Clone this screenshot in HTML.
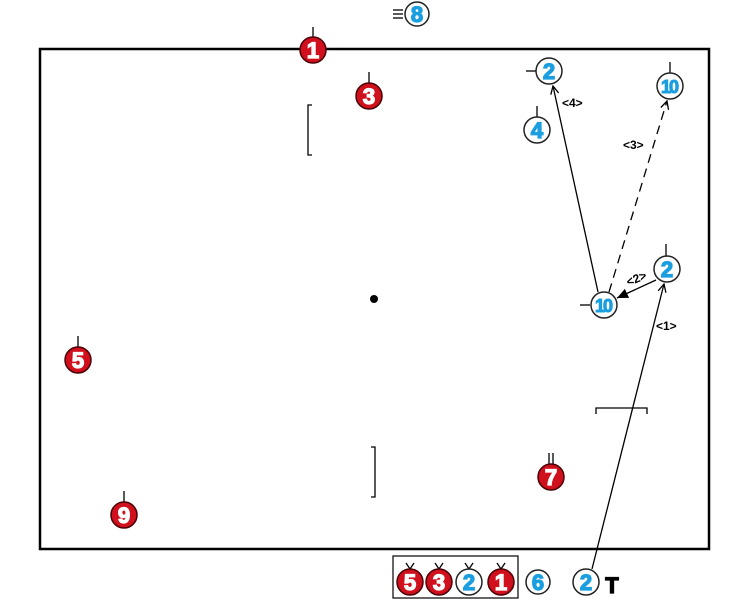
<!DOCTYPE html>
<html><head><meta charset="utf-8"><style>
html,body{margin:0;padding:0;background:#fff;width:748px;height:600px;overflow:hidden}
svg{display:block}
.r{fill:#d0101c;stroke:#4a0006;stroke-width:1.5}
.b{fill:#fff;stroke:#222;stroke-width:1.5}
.rt{fill:#fff;font:bold 22px "Liberation Sans",sans-serif;text-anchor:middle;stroke:#fff;stroke-width:1.3}
.bt{fill:#1a9ee0;font:bold 22px "Liberation Sans",sans-serif;text-anchor:middle;stroke:#1a9ee0;stroke-width:1.3}
.bt2{fill:#1a9ee0;font:bold 18px "Liberation Sans",sans-serif;text-anchor:middle;stroke:#1a9ee0;stroke-width:1;letter-spacing:-2px}
.l{font:bold 12px "Liberation Sans",sans-serif;fill:#000}
.k{stroke:#000;stroke-width:1.3;fill:none}
</style></head><body>
<svg width="748" height="600" viewBox="0 0 748 600" xmlns="http://www.w3.org/2000/svg">
<defs>
<marker id="o" markerWidth="10" markerHeight="10" refX="9" refY="5" orient="auto" markerUnits="userSpaceOnUse"><path d="M1,1 L9,5 L1,9" fill="none" stroke="#000" stroke-width="1.3"/></marker>
<marker id="f" markerWidth="12" markerHeight="12" refX="11" refY="6" orient="auto" markerUnits="userSpaceOnUse"><path d="M0,1 L11,6 L0,11 Z" fill="#000"/></marker>
</defs>
<rect x="40" y="49" width="669" height="500" fill="none" stroke="#000" stroke-width="2.5"/>
<path class="k" d="M312,105 H308 V155 H312"/>
<path class="k" d="M371,447 H375 V497 H371"/>
<path class="k" d="M596,414 V408 H647 V414"/>
<circle cx="374" cy="299" r="4" fill="#000"/>
<line class="k" x1="592" y1="569" x2="664" y2="284" marker-end="url(#o)"/>
<line class="k" x1="598" y1="292" x2="553" y2="86" marker-end="url(#o)"/>
<line class="k" x1="609" y1="292" x2="667" y2="101" stroke-dasharray="9,6" marker-end="url(#o)"/>
<line class="k" x1="656" y1="280" x2="617" y2="298" marker-end="url(#f)"/>
<text class="l" x="562" y="107">&lt;4&gt;</text>
<text class="l" x="623" y="149">&lt;3&gt;</text>
<text class="l" x="626" y="282" transform="rotate(-22 638 278)">&lt;2&gt;</text>
<text class="l" x="656" y="330">&lt;1&gt;</text>
<g class="k" stroke-width="1.2">
<line x1="313" y1="27" x2="313" y2="37"/>
<line x1="369" y1="72" x2="369" y2="83"/>
<line x1="78" y1="336" x2="78" y2="347"/>
<line x1="124" y1="491" x2="124" y2="502"/>
<line x1="549" y1="453" x2="549" y2="464"/><line x1="553" y1="453" x2="553" y2="464"/>
<line x1="526" y1="71" x2="536" y2="71"/>
<line x1="537" y1="106" x2="537" y2="117"/>
<line x1="670" y1="62" x2="670" y2="73"/>
<line x1="666" y1="244" x2="666" y2="256"/>
<line x1="580" y1="305" x2="590" y2="305"/>
<line x1="393" y1="10" x2="403" y2="10"/><line x1="393" y1="14" x2="403" y2="14"/><line x1="393" y1="18" x2="403" y2="18"/>
</g>
<circle class="r" cx="313" cy="50" r="13"/><text class="rt" x="313" y="58">1</text>
<circle class="r" cx="369" cy="96" r="13"/><text class="rt" x="369" y="104">3</text>
<circle class="r" cx="78" cy="360" r="13"/><text class="rt" x="78" y="368">5</text>
<circle class="r" cx="124" cy="515" r="13"/><text class="rt" x="124" y="523">9</text>
<circle class="r" cx="551" cy="477" r="13"/><text class="rt" x="551" y="485">7</text>
<circle class="b" cx="417" cy="14" r="12"/><text class="bt" x="417" y="22">8</text>
<circle class="b" cx="549" cy="71" r="13"/><text class="bt" x="549" y="79">2</text>
<circle class="b" cx="537" cy="130" r="13"/><text class="bt" x="537" y="138">4</text>
<circle class="b" cx="670" cy="86" r="13"/><text class="bt2" x="669" y="93">10</text>
<circle class="b" cx="667" cy="269" r="13"/><text class="bt" x="667" y="277">2</text>
<circle class="b" cx="604" cy="305" r="13"/><text class="bt2" x="603" y="312">10</text>
<rect x="393" y="556" width="125" height="42" fill="none" stroke="#000" stroke-width="1.2"/>
<g class="k" stroke-width="1.1">
<path d="M406,563 L410,569 L414,563"/><path d="M435,563 L439,569 L443,563"/><path d="M465,563 L469,569 L473,563"/><path d="M497,563 L501,569 L505,563"/>
</g>
<circle class="r" cx="410" cy="582" r="13"/><text class="rt" x="410" y="590">5</text>
<circle class="r" cx="439" cy="582" r="13"/><text class="rt" x="439" y="590">3</text>
<circle class="b" cx="469" cy="582" r="13"/><text class="bt" x="469" y="590">2</text>
<circle class="r" cx="501" cy="582" r="13"/><text class="rt" x="501" y="590">1</text>
<circle class="b" cx="538" cy="582" r="12"/><text class="bt" x="538" y="590">6</text>
<circle class="b" cx="586" cy="582" r="13"/><text class="bt" x="586" y="590">2</text>
<text x="612" y="593" font-family="Liberation Sans,sans-serif" font-weight="bold" font-size="22" text-anchor="middle" stroke="#000" stroke-width="1.2">T</text>
</svg>
</body></html>
